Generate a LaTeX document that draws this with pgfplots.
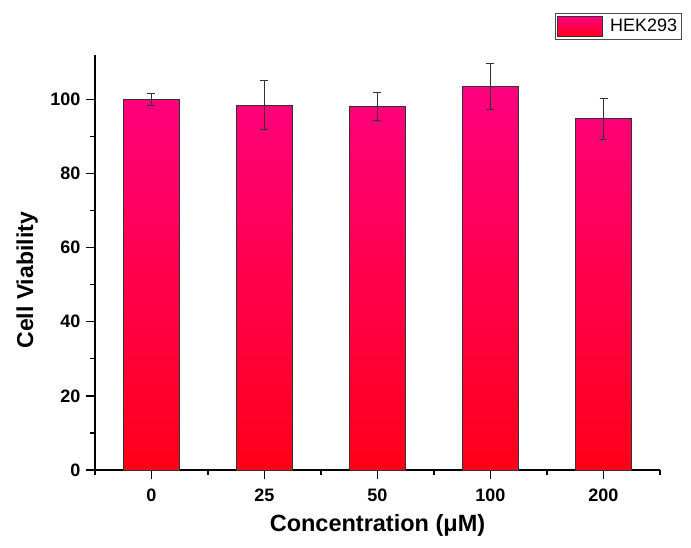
\documentclass[border=0pt]{standalone}
\usepackage{pgfplots}
\pgfplotsset{compat=1.18}
\usepackage{fontspec}
\setmainfont{Liberation Sans}
\definecolor{barTop}{RGB}{255,0,128}
\definecolor{barBot}{RGB}{255,0,24}
\pgfplotsset{hek legend/.style={legend image code/.code={\draw[##1, line width=0.8pt] (0pt,-10pt) rectangle (45pt,10pt);}}}
\begin{document}
\begin{tikzpicture}[x=1pt,y=1pt]
\useasboundingbox (-95,-77) rectangle (596,470);
\begin{axis}[
  at={(0,0)}, anchor=south west,
  scale only axis, width=565pt, height=415pt,
  xmin=-0.5, xmax=4.5, ymin=0, ymax=112,
  axis x line*=bottom, axis y line*=left,
  axis line style={line width=1.6pt},
  xtick={0,1,2,3,4}, xticklabels={0,25,50,100,200},
  minor xtick={-0.5,0.5,1.5,2.5,3.5,4.5},
  ytick={0,20,40,60,80,100}, minor ytick={10,30,50,70,90},
  tick align=outside,
  major tick length=9pt, minor tick length=5pt,
  every tick/.style={black, line width=1.3pt},
  /pgf/number format/assume math mode=true,
  tick label style={font=\bfseries\fontsize{18}{20}\selectfont},
  xticklabel style={yshift=-6pt},
  yticklabel style={xshift=-2pt},
  xlabel={Concentration (μM)},
  ylabel={Cell Viability},
  xlabel style={font=\bfseries\fontsize{23.5}{26}\selectfont, at={(axis description cs:0.5,-0.1325)}, anchor=center},
  ylabel style={font=\bfseries\fontsize{23}{26}\selectfont, at={(axis description cs:-0.120,0.457)}, anchor=center},
  legend style={at={(axis description cs:0.814,1.101)}, anchor=north west,
    draw=black!70, line width=0.8pt, inner xsep=2pt, inner ysep=2.5pt,
    column sep=5pt,
    font=\fontsize{18}{20}\selectfont},
]
\addplot[ybar, bar width=0.5, top color=barTop, bottom color=barBot,
  draw=black!80, line width=1pt, hek legend,
  error bars/.cd, y dir=both, y explicit,
  error bar style={line width=1pt, black!80},
  error mark options={rotate=90, mark size=4pt, line width=1pt, black!80}]
  table[x=x, y=y, y error=e] {
x y e
0 100 1.7
1 98.5 6.7
2 98.0 3.8
3 103.5 6.3
4 94.8 5.5
};
\addlegendentry{HEK293\hspace{13pt}}
\end{axis}
\end{tikzpicture}
\end{document}
